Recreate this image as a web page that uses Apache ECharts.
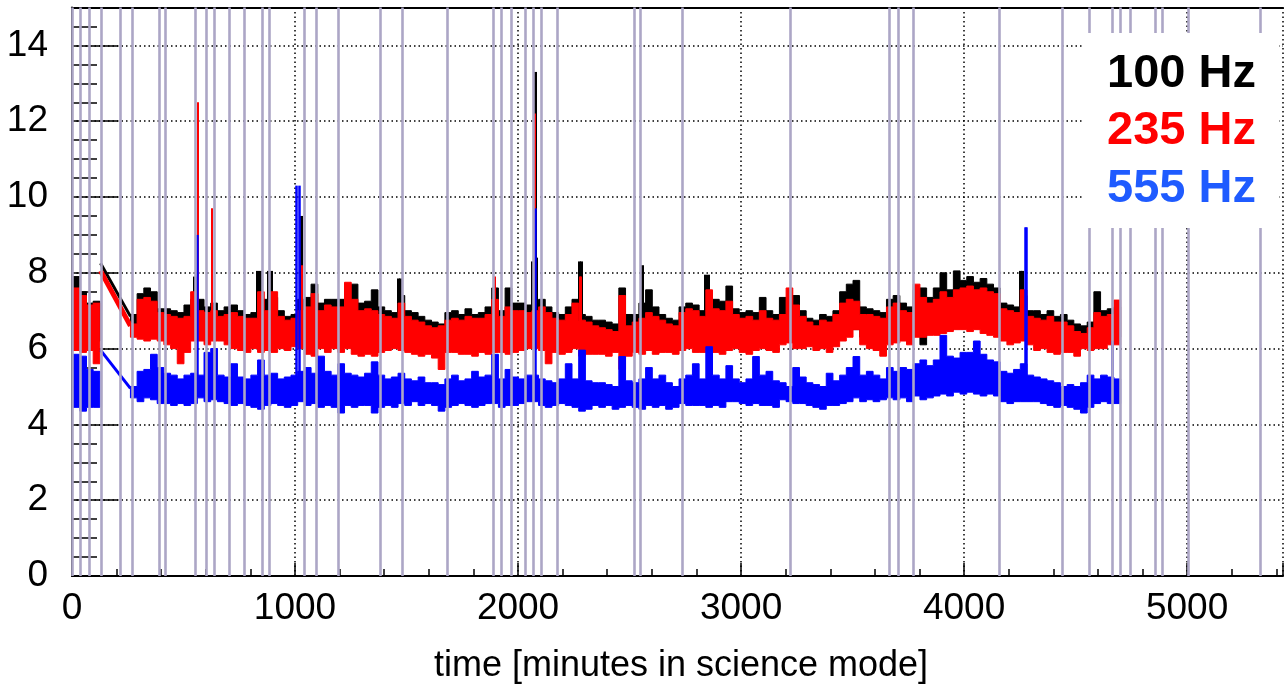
<!DOCTYPE html>
<html><head><meta charset="utf-8">
<script src="https://cdn.jsdelivr.net/npm/echarts@6/dist/echarts.min.js"></script>
<style>html,body{margin:0;padding:0;background:#fff}#c{width:1286px;height:691px}</style>
</head><body><div id="c"></div>
<script>
// ================= data =================
const seriesNames = ['100 Hz', '235 Hz', '555 Hz'];

// Each science segment is sampled in 30-minute bins; for every bin the
// upper and lower edge of the (rapidly oscillating) trace is given.
const binWidth = 30;           // minutes
const seg1Start = 5;           // first segment start (min)
const seg2Start = 262;         // second segment start (min)

const seg1BlackUpper = [7.9, 7.5, 7.2, 7.25];
const seg1BlackLower = [6.4, 6.3, 6.3, 6.2];
const seg1RedUpper   = [7.6, 7.4, 7.15, 7.2];
const seg1RedLower   = [5.95, 5.9, 5.95, 5.6];
const seg1BlueUpper  = [5.85, 5.8, 5.45, 5.4];
const seg1BlueLower  = [4.45, 4.35, 4.45, 4.45];

const seg2BlackUpper = [
6.9,7.45,7.6,7.5,7.05, 7.05,7.0,6.95,7.15,7.3, 7.3,7.1,7.2,7.0,7.1, 7.15,7.0,6.9,6.95,7.3,
7.3,7.35,7.0,6.85,6.9, 7.3,7.35,7.7,7.2,7.3, 7.3,7.3,7.7,7.7,7.2, 7.25,7.55,7.1,7.0,6.95,
7.4,7.0,6.95,6.85,6.75, 6.7,6.65,6.95,7.0,6.9, 7.05,6.9,6.95,7.1,7.6, 7.0,7.6,7.2,7.2,7.15,
7.2,7.3,7.1,6.95,6.9, 7.1,7.3,6.9,6.85,6.75, 6.75,6.7,6.65,7.6,6.9, 6.9,7.2,7.55,7.1,6.9,
6.8,6.75,7.1,7.2,7.15, 7.0,7.4,7.3,7.25,7.65, 7.05,6.95,7.0,6.95,7.35, 7.0,6.9,7.35,7.0,7.4,
7.0,6.8,6.75,6.9,6.85, 7.0,7.5,7.7,7.8,7.1, 7.05,7.0,6.95,7.3,7.4, 7.2,7.1,7.55,7.6,7.35,
7.6,8.0,7.55,8.05,7.8, 7.9,7.75,7.85,7.7,7.6, 7.2,7.15,7.1,7.4,7.0, 7.0,6.9,7.0,6.85,6.9,
6.75,6.65,6.6,6.7,7.5, 7.0,7.05,7.1
];
const seg2BlackLower = [
6.6,6.55,6.6,6.5,6.45, 6.45,6.4,6.35,6.3,6.5, 6.5,6.45,6.5,6.4,6.45, 6.35,6.3,6.3,6.35,6.3,
6.3,6.35,6.3,6.4,6.5, 6.4,6.35,6.3,6.35,6.3, 6.4,6.35,6.4,6.35,6.3, 6.3,6.4,6.3,6.35,6.3,
6.4,6.3,6.25,6.2,6.2, 6.15,6.2,6.3,6.3,6.25, 6.3,6.25,6.3,6.35,6.3, 6.3,6.35,6.3,6.35,6.5,
6.5,6.3,6.25,6.3,6.2, 6.3,6.4,6.2,6.15,6.2, 6.2,6.15,6.2,6.25,6.2, 6.25,6.3,6.3,6.25,6.2,
6.3,6.2,6.3,6.35,6.3, 6.3,6.3,6.3,6.25,6.3, 6.3,6.25,6.3,6.3,6.35, 6.3,6.25,6.3,6.35,6.3,
6.3,6.25,6.2,6.25,6.2, 6.3,6.5,6.55,6.5,6.3, 6.3,6.25,6.2,6.35,6.3, 6.4,6.35,6.5,6.1,6.4,
6.5,6.55,6.5,6.6,6.6, 6.7,6.65,6.6,6.6,6.5, 6.4,6.35,6.3,6.35,6.3, 6.3,6.25,6.3,6.25,6.2,
6.2,6.15,6.1,6.2,6.25, 6.3,6.35,6.3
];
const seg2RedUpper = [
6.65,7.3,7.35,7.25,6.95, 6.9,6.85,6.8,6.85,7.5, 7.0,6.95,7.0,6.85,6.9, 6.95,6.85,6.8,6.8,7.5,
7.0,7.5,6.85,6.75,6.8, 7.0,7.1,7.45,7.0,7.15, 7.1,7.1,7.75,7.3,7.0, 7.05,7.0,6.9,6.85,6.8,
7.2,6.85,6.75,6.7,6.6, 6.55,6.6,6.75,6.8,6.75, 6.85,6.8,6.8,6.9,7.3, 6.85,7.1,7.0,7.0,6.95,
7.0,7.1,6.95,6.8,6.75, 6.9,7.2,6.75,6.7,6.6, 6.55,6.5,6.45,7.4,6.6, 6.7,6.8,6.95,6.85,6.75,
6.65,6.6,6.95,7.05,7.0, 6.85,7.55,7.05,7.0,7.25, 6.9,6.8,6.85,6.75,7.0, 6.8,6.75,6.9,7.6,7.15,
6.85,6.7,6.6,6.75,6.7, 6.9,7.2,7.3,7.25,6.9, 6.9,6.85,6.8,7.1,7.2, 7.0,6.95,7.7,7.35,7.2,
7.3,7.5,7.35,7.55,7.6, 7.65,7.55,7.6,7.5,7.45, 7.05,7.0,6.95,7.55,6.85, 6.8,6.75,6.85,6.7,6.7,
6.6,6.45,6.4,6.55,6.95, 6.85,6.9,7.28
];
const seg2RedLower = [
6.3,6.25,6.2,6.25,6.2, 6.1,6.0,5.6,5.9,6.2, 6.2,6.1,6.2,6.2,6.1, 6.0,5.95,5.9,6.0,5.9,
5.95,5.9,6.0,5.95,6.05, 6.0,5.85,5.8,6.0,5.9, 6.0,5.9,6.0,5.85,5.8, 5.85,5.8,5.9,5.95,6.0,
5.95,5.9,5.85,5.8,5.85, 5.75,5.45,5.9,5.9,5.85, 5.85,5.8,5.9,5.85,5.9, 5.9,5.85,5.9,5.95,6.0,
6.0,5.95,5.6,5.9,5.85, 5.9,6.0,5.8,5.85,5.85, 5.85,5.8,5.9,5.45,5.8, 5.9,5.85,5.95,5.85,5.9,
5.9,5.85,5.95,6.0,5.9, 5.9,5.95,5.9,5.85,5.95, 6.0,5.9,5.85,5.95,6.0, 5.95,5.9,6.1,6.15,6.0,
6.0,6.05,5.95,6.0,5.9, 6.05,6.2,6.3,6.5,6.1, 6.0,5.95,5.8,6.1,6.15, 6.2,6.1,6.3,6.3,6.35,
6.35,6.4,6.45,6.5,6.5, 6.45,6.5,6.4,6.35,6.3, 6.2,6.1,6.15,6.2,6.1, 5.95,6.0,5.9,5.85,5.9,
5.9,5.8,6.0,5.95,6.0, 6.0,6.1,6.1
];
const seg2BlueUpper = [
5.0,5.4,5.45,5.85,5.5, 5.35,5.3,5.2,5.3,5.35, 5.3,5.9,6.0,5.3,5.25, 5.6,5.25,5.2,5.3,5.7,
5.3,5.35,5.2,5.25,5.3, 5.4,5.5,5.35,5.8,5.4, 5.3,5.6,5.35,5.3,5.25, 5.35,5.65,5.3,5.2,5.25,
5.35,5.2,5.15,5.25,5.1, 5.1,5.05,5.2,5.3,5.15, 5.2,5.4,5.25,5.3,5.85, 5.2,5.45,5.25,5.2,5.3,
5.3,5.2,5.15,5.1,5.2, 5.6,5.2,5.96,5.15,5.1, 5.1,5.05,5.0,5.79,5.15, 5.1,5.2,5.5,5.2,5.3,
5.1,5.0,5.2,5.3,5.6, 5.2,6.05,5.3,5.2,5.55, 5.2,5.1,5.2,5.79,5.3, 5.4,5.15,5.1,5.0,5.5,
5.25,5.1,5.05,5.0,5.35, 5.15,5.3,5.5,5.79,5.3, 5.4,5.3,5.2,5.5,5.4, 5.5,5.45,5.6,5.7,5.55,
5.7,6.35,5.8,5.75,5.9, 5.9,6.2,5.85,5.7,5.65, 5.4,5.35,5.45,5.6,5.3, 5.25,5.2,5.15,5.1,5.0,
5.05,5.0,5.1,5.3,5.2, 5.3,5.25,5.2
];
const seg2BlueLower = [
4.7,4.6,4.7,4.65,4.55, 4.55,4.5,4.55,4.5,4.55, 4.7,4.6,4.65,4.6,4.55, 4.5,4.55,4.5,4.45,4.4,
4.5,4.55,4.5,4.45,4.5, 4.6,4.5,4.55,4.45,4.5, 4.45,4.3,4.5,4.45,4.5, 4.5,4.3,4.45,4.5,4.45,
4.55,4.5,4.6,4.5,4.55, 4.5,4.35,4.45,4.5,4.55, 4.5,4.45,4.5,4.55,4.55, 4.45,4.5,4.5,4.55,4.6,
4.6,4.5,4.45,4.5,4.55, 4.5,4.45,4.35,4.4,4.5, 4.45,4.5,4.4,4.45,4.5, 4.45,4.4,4.5,4.45,4.5,
4.4,4.45,4.55,4.5,4.5, 4.5,4.45,4.5,4.45,4.6, 4.6,4.55,4.5,4.55,4.5, 4.5,4.45,4.65,4.6,4.55,
4.55,4.5,4.45,4.4,4.5, 4.5,4.55,4.6,4.7,4.6, 4.65,4.6,4.65,4.7,4.65, 4.7,4.6,4.75,4.65,4.7,
4.75,4.8,4.75,4.85,4.8, 4.85,4.8,4.75,4.8,4.75, 4.6,4.55,4.6,4.6,4.6, 4.6,4.55,4.5,4.45,4.5,
4.45,4.4,4.3,4.45,4.55, 4.6,4.55,4.55
];

// straight connection across the data gap (minutes, values)
const gapTimes = [128, 262];
const gapBlack = [8.25, 6.85];
const gapRed   = [8.05, 6.6];
const gapBlue  = [5.96, 4.95];

// narrow glitches: [minute, peak value]
const blackSpikes = [[548, 7.9], [560, 7.9], [830, 8.05], [843, 8.05], [882, 8.05], [894, 8.05],
  [1028, 9.5], [1461, 7.85], [1471, 7.85], [2062, 8.3], [2077, 13.3], [2083, 8.4],
  [2273, 8.3], [2285, 8.3], [2556, 8.2], [2841, 7.95], [2851, 7.95], [4251, 8.05], [4260, 8.05]];
const redSpikes = [[562, 12.5], [628, 9.7], [1030, 8.2], [1896, 7.9], [2076, 12.2],
  [2275, 7.9], [2283, 7.9], [4255, 7.55]];
const blueSpikes = [[560, 9.0], [1007, 10.3], [1019, 10.3], [2075, 9.7], [4274, 9.2], [4281, 9.2], [4665, 6.2]];

// vertical lavender marker lines (minutes)
const vetoTimes = [2, 37, 76, 133, 215, 271, 389, 420, 553, 602, 640, 703, 774, 855, 886,
  1042, 1097, 1193, 1382, 1481, 1681, 1887, 1926, 1971, 2033, 2068, 2103, 2178,
  2522, 2548, 2737, 3220, 3666, 3703, 3773, 4157, 4438, 4563, 4664, 4702, 4746,
  4858, 4888, 5003, 5328];

const xTickLabels = ['0', '1000', '2000', '3000', '4000', '5000'];
const yTickLabels = ['0', '2', '4', '6', '8', '10', '12', '14'];
const xTitle = 'time [minutes in science mode]';

// ================= styling =================
const COLORS = ['#000000', '#ff0000', '#0000ff'];
const LEGEND_COLORS = ['#000000', '#ff0000', '#1f5bff'];
const VETO_COLOR = '#aca6c6';
const FONT = "'Liberation Sans', Arial, Helvetica, sans-serif";
const SPIKE_BASE = [6.8, 6.4, 5.0];
const SPIKE_WIDTH = [3, 2, 2.5];

const bands = [
  [[seg1Start, seg1BlackUpper, seg1BlackLower], [seg2Start, seg2BlackUpper, seg2BlackLower]],
  [[seg1Start, seg1RedUpper, seg1RedLower], [seg2Start, seg2RedUpper, seg2RedLower]],
  [[seg1Start, seg1BlueUpper, seg1BlueLower], [seg2Start, seg2BlueUpper, seg2BlueLower]]
];
const gaps = [gapBlack, gapRed, gapBlue];
const spikes = [blackSpikes, redSpikes, blueSpikes];

function bandSeries(segs, color, z) {
  return {
    type: 'custom', coordinateSystem: 'cartesian2d', z: z, silent: true, animation: false, clip: true,
    data: [[0, 0]],
    renderItem: function (params, api) {
      const children = segs.map(function (seg) {
        const start = seg[0], up = seg[1], lo = seg[2];
        const pts = [];
        for (let j = 0; j < up.length; j++) {
          pts.push(api.coord([start + j * binWidth, up[j]]));
          pts.push(api.coord([start + (j + 1) * binWidth, up[j]]));
        }
        for (let j = lo.length - 1; j >= 0; j--) {
          pts.push(api.coord([start + (j + 1) * binWidth, lo[j]]));
          pts.push(api.coord([start + j * binWidth, lo[j]]));
        }
        return {type: 'polygon', shape: {points: pts}, style: {fill: color, stroke: color, lineWidth: 1}};
      });
      return {type: 'group', children: children};
    }
  };
}

const series = [];
for (let i = 0; i < 3; i++) {
  const zBase = 2 + i * 3;
  series.push(bandSeries(bands[i], COLORS[i], zBase));
  series.push({
    type: 'line', name: seriesNames[i], z: zBase + 1, silent: true, animation: false,
    data: gapTimes.map((t, k) => [t, gaps[i][k]]), showSymbol: false, symbol: 'none',
    lineStyle: {color: COLORS[i], width: i === 1 ? 5 : 3}
  });
  series.push({
    type: 'line', data: [], z: zBase + 2, silent: true, animation: false,
    markLine: {
      silent: true, animation: false, symbol: ['none', 'none'], z: zBase + 2,
      label: {show: false},
      lineStyle: {color: COLORS[i], width: SPIKE_WIDTH[i], type: 'solid'},
      data: spikes[i].map(s => [{coord: [s[0], SPIKE_BASE[i]]}, {coord: [s[0], s[1]]}])
    }
  });
}
series.push({
  type: 'line', data: [], z: 20, silent: true, animation: false,
  markLine: {
    silent: true, animation: false, symbol: ['none', 'none'], z: 20,
    label: {show: false},
    lineStyle: {color: VETO_COLOR, width: 2.6, type: 'solid'},
    data: vetoTimes.map(t => [{coord: [t, 0]}, {coord: [t, 15]}])
  }
});

const chart = echarts.init(document.getElementById('c'), null, {renderer: 'canvas'});
chart.setOption({
  backgroundColor: '#fff',
  animation: false,
  grid: {left: 72, right: 0, top: 7.5, bottom: 115, containLabel: false},
  xAxis: [
    {
      type: 'value', position: 'bottom', min: 0, max: 5430, interval: 1000,
      axisLine: {show: true, lineStyle: {color: '#000', width: 2}},
      axisTick: {show: true, inside: true, length: 13, lineStyle: {color: '#000', width: 1.5}},
      splitLine: {show: true, lineStyle: {color: '#000', width: 1.5, type: [1.5, 3]}},
      axisLabel: {
        margin: 14, color: '#000', fontSize: 37, fontFamily: FONT,
        formatter: v => xTickLabels.includes(String(v)) ? String(v) : ''
      }
    },
    {
      type: 'value', position: 'bottom', min: 0, max: 5430, interval: 200,
      axisLine: {show: false}, axisLabel: {show: false}, splitLine: {show: false},
      axisTick: {show: true, inside: true, length: 7, lineStyle: {color: '#000', width: 1.5}}
    },
    {
      type: 'value', position: 'top', min: 0, max: 5430,
      axisLine: {show: true, lineStyle: {color: '#000', width: 2}},
      axisTick: {show: false}, axisLabel: {show: false}, splitLine: {show: false}
    }
  ],
  yAxis: [
    {
      type: 'value', position: 'left', min: 0, max: 15, interval: 2,
      axisLine: {show: true, lineStyle: {color: '#000', width: 2}},
      axisTick: {show: true, inside: true, length: 46, lineStyle: {color: '#000', width: 1.5}},
      splitLine: {show: true, lineStyle: {color: '#000', width: 1.5, type: [1.5, 3]}},
      axisLabel: {
        margin: 24, color: '#000', fontSize: 37, fontFamily: FONT,
        formatter: v => yTickLabels.includes(String(v)) ? String(v) : ''
      }
    },
    {
      type: 'value', position: 'left', min: 0, max: 15, interval: 0.5,
      axisLine: {show: false}, axisLabel: {show: false}, splitLine: {show: false},
      axisTick: {show: true, inside: true, length: 25, lineStyle: {color: '#000', width: 1.5}}
    }
  ],
  series: series,
  graphic: [
    {type: 'rect', shape: {x: 1083, y: 33, width: 196, height: 195}, style: {fill: '#fff'}, z: 100, silent: true},
    {type: 'text', x: 1256, y: 74, z: 101, silent: true,
      style: {text: seriesNames[0], fill: LEGEND_COLORS[0], font: 'bold 47px ' + FONT, align: 'right', verticalAlign: 'middle'}},
    {type: 'text', x: 1256, y: 131.5, z: 101, silent: true,
      style: {text: seriesNames[1], fill: LEGEND_COLORS[1], font: 'bold 47px ' + FONT, align: 'right', verticalAlign: 'middle'}},
    {type: 'text', x: 1256, y: 189, z: 101, silent: true,
      style: {text: seriesNames[2], fill: LEGEND_COLORS[2], font: 'bold 47px ' + FONT, align: 'right', verticalAlign: 'middle'}},
    {type: 'text', x: 681, y: 666, z: 101, silent: true,
      style: {text: xTitle, fill: '#000', font: '36px ' + FONT, align: 'center', verticalAlign: 'middle'}}
  ]
});
</script>
</body></html>
